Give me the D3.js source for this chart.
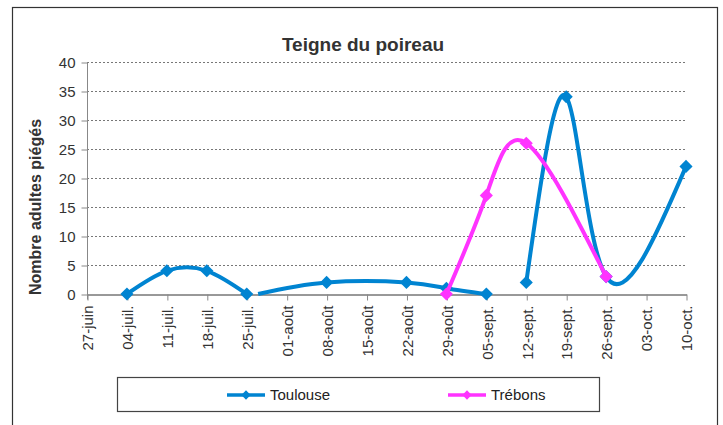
<!DOCTYPE html>
<html>
<head>
<meta charset="utf-8">
<script src="https://cdn.jsdelivr.net/npm/d3@7"></script>
<style>
  body { margin: 0; background: #fff; }
  svg { font-family: "Liberation Sans", Arial, sans-serif; }
</style>
</head>
<body>
<svg id="chart" width="723" height="425"></svg>
<script>
// tick dates (weekly) and their labels
const tickDates = ["2010-06-27", "2010-07-04", "2010-07-11", "2010-07-18", "2010-07-25",
  "2010-08-01", "2010-08-08", "2010-08-15", "2010-08-22", "2010-08-29", "2010-09-05",
  "2010-09-12", "2010-09-19", "2010-09-26", "2010-10-03", "2010-10-10"];
const tickLabels = ["27-juin", "04-juil.", "11-juil.", "18-juil.", "25-juil.", "01-août",
  "08-août", "15-août", "22-août", "29-août", "05-sept.", "12-sept.", "19-sept.",
  "26-sept.", "03-oct.", "10-oct."];
const yTicks = [0, 5, 10, 15, 20, 25, 30, 35, 40];

// Toulouse is drawn in three pieces (gaps in the data)
const toulouseA = [["2010-07-04", 0], ["2010-07-11", 4], ["2010-07-18", 4], ["2010-07-25", 0]];
const toulouseB = [["2010-07-27", 0], ["2010-08-08", 2], ["2010-08-22", 2], ["2010-08-29", 1], ["2010-09-05", 0]];
const toulouseC = [["2010-09-12", 2], ["2010-09-19", 34], ["2010-09-26", 3], ["2010-10-10", 22]];
const trebons = [["2010-08-29", 0], ["2010-09-05", 17], ["2010-09-12", 26], ["2010-09-26", 3]];
const noMarker = ["2010-07-27"];

const blue = "#0084d1", pink = "#ff33ff";
const margin = { top: 62, left: 87, bottom: 131, right: 37 };

const svg = d3.select("#chart");
const W = +svg.attr("width"), H = +svg.attr("height");
const parse = d3.utcParse("%Y-%m-%d");

const x = d3.scaleUtc()
  .domain([parse(tickDates[0]), parse(tickDates[tickDates.length - 1])])
  .range([margin.left, W - margin.right]);
const y = d3.scaleLinear()
  .domain([0, 40])
  .range([H - margin.bottom, margin.top]);

// outer frame
svg.append("rect")
  .attr("x", 12.5).attr("y", 7.5)
  .attr("width", 705).attr("height", 430)
  .attr("fill", "none").attr("stroke", "#333").attr("stroke-width", 1.2);

// title
svg.append("text")
  .attr("x", 363).attr("y", 51)
  .attr("text-anchor", "middle")
  .attr("font-size", 19).attr("font-weight", "bold").attr("fill", "#333")
  .text("Teigne du poireau");

// grid
svg.append("g")
  .selectAll("line")
  .data(yTicks.filter(d => d > 0))
  .join("line")
  .attr("x1", x.range()[0]).attr("x2", x.range()[1])
  .attr("y1", d => Math.round(y(d)) + 0.5).attr("y2", d => Math.round(y(d)) + 0.5)
  .attr("stroke", "#777").attr("stroke-dasharray", "2,2");

// y axis
const yAxis = svg.append("g")
  .attr("transform", `translate(${margin.left + 0.5},0.5)`)
  .call(d3.axisLeft(y).tickValues(yTicks).tickSize(6).tickPadding(6).tickSizeOuter(0));
yAxis.select(".domain").attr("stroke", "#888").attr("d", `M0,${y(40)}V${y(0) + 5}`);
yAxis.selectAll(".tick line").attr("stroke", "#888");
yAxis.selectAll("text").attr("font-size", 15).attr("fill", "#333")
  .attr("font-family", "Liberation Sans, Arial, sans-serif");

// x axis
const xAxis = svg.append("g")
  .attr("transform", `translate(0.5,${Math.round(y(0)) + 0.5})`)
  .call(d3.axisBottom(x)
    .tickValues(tickDates.map(parse))
    .tickFormat((d, i) => tickLabels[i])
    .tickSize(6).tickSizeOuter(0));
xAxis.select(".domain").attr("stroke", "#333");
xAxis.selectAll(".tick line").attr("stroke", "#888");
xAxis.selectAll("text")
  .attr("font-size", 15).attr("fill", "#333")
  .attr("font-family", "Liberation Sans, Arial, sans-serif")
  .attr("text-anchor", "end")
  .attr("transform", "rotate(-90)")
  .attr("x", -11).attr("y", 0).attr("dy", "0.35em");

// y axis title
svg.append("text")
  .attr("transform", "translate(41,207) rotate(-90)")
  .attr("text-anchor", "middle")
  .attr("font-size", 16).attr("font-weight", "bold").attr("fill", "#333")
  .text("Nombre adultes piégés");

const line = d3.line()
  .x(d => x(parse(d[0])))
  .y(d => y(d[1]))
  .curve(d3.curveNatural);

const diamond = d3.symbol().type(d3.symbolDiamond2);

function drawSeries(segments, color) {
  const g = svg.append("g");
  segments.forEach(seg => {
    g.append("path")
      .attr("d", line(seg))
      .attr("fill", "none").attr("stroke", color)
      .attr("stroke-width", 4);
  });
  g.selectAll("path.mk")
    .data(segments.flat().filter(d => !noMarker.includes(d[0])))
    .join("path")
    .attr("class", "mk")
    .attr("d", diamond.size(110))
    .attr("transform", d => `translate(${x(parse(d[0]))},${y(d[1])})`)
    .attr("fill", color);
}

drawSeries([toulouseA, toulouseB, toulouseC], blue);
drawSeries([trebons], pink);

// legend
svg.append("rect")
  .attr("x", 117.5).attr("y", 377.5)
  .attr("width", 482).attr("height", 34)
  .attr("fill", "none").attr("stroke", "#444").attr("stroke-width", 1.2);

const legendItems = [
  { name: "Toulouse", color: blue, x: 227 },
  { name: "Trébons", color: pink, x: 448 }
];
const lg = svg.append("g").selectAll("g")
  .data(legendItems)
  .join("g")
  .attr("transform", d => `translate(${d.x},395)`);
lg.append("line")
  .attr("x1", 0).attr("x2", 38)
  .attr("stroke", d => d.color).attr("stroke-width", 3.5);
lg.append("path")
  .attr("d", diamond.size(55))
  .attr("transform", "translate(19,0)")
  .attr("fill", d => d.color);
lg.append("text")
  .attr("x", 43).attr("dy", "0.35em")
  .attr("font-size", 15).attr("fill", "#222")
  .text(d => d.name);
</script>
</body>
</html>
